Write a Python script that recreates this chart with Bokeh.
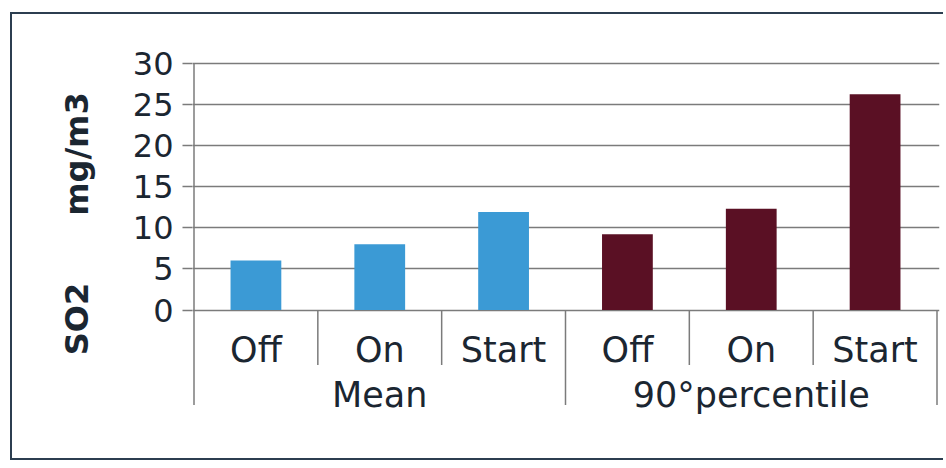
from bokeh.plotting import figure
from bokeh.models import FixedTicker, ColumnDataSource, Range1d
from bokeh.core.properties import value
from bokeh.embed import file_html
from bokeh.resources import INLINE

# ---- data ----
groups = ["Mean", "90°percentile"]
states = ["Off", "On", "Start"]
mean_values = [6.0, 8.0, 11.9]
p90_values = [9.2, 12.3, 26.2]
y_ticks = [0, 5, 10, 15, 20, 25, 30]
y_title_bottom = "SO2"
y_title_top = "mg/m3"

# ---- layout (reference pixel geometry) ----
BOX_L, BOX_T, BORDER = 10, 12, 2.5          # outer frame box position/line
OX, OY = BOX_L + BORDER, BOX_T + BORDER     # canvas offset inside the box
W, H = 933, 448
REF_X0, REF_X1 = 194, 937                   # x of category 0 start / last end
REF_Y0, REF_Y30 = 310, 63                   # y of values 0 / 30
FRAME_L, FRAME_R, FRAME_T, FRAME_B = 180, 927, 47, 416   # canvas px

n = len(groups) * len(states)
ppu_x = (REF_X1 - REF_X0) / n
ppu_y = (REF_Y0 - REF_Y30) / 30.0
x_start = -((REF_X0 - OX) - FRAME_L) / ppu_x
x_end = n + (FRAME_R - (REF_X1 - OX)) / ppu_x
y_end = 30 + ((REF_Y30 - OY) - FRAME_T) / ppu_y
y_start = -(FRAME_B - (REF_Y0 - OY)) / ppu_y

def px_y(py_ref):
    return (REF_Y0 - py_ref) / ppu_y

TEXT = "#1b2631"
GRID = "#7b7b7b"
FONT = "DejaVu Sans"
colors = ["#3b9ad5", "#5a1024"]
NB = "\u00a0"

p = figure(width=W, height=H, output_backend="svg", toolbar_location=None,
           x_range=Range1d(x_start, x_end), y_range=Range1d(y_start, y_end),
           min_border_left=FRAME_L, min_border_right=W - FRAME_R,
           min_border_top=FRAME_T, min_border_bottom=H - FRAME_B)
p.styles = {"border": f"{BORDER}px solid #2c3e50", "border-right": "none",
            "margin-left": f"{BOX_L}px", "margin-top": f"{BOX_T}px"}
p.outline_line_color = None
p.background_fill_color = "white"
p.border_fill_color = "white"
p.xaxis.visible = False
p.xgrid.visible = False

ya = p.yaxis[0]
ya.ticker = FixedTicker(ticks=y_ticks)
ya.axis_line_color = None
ya.major_tick_line_color = GRID
ya.major_tick_line_width = 1.5
ya.major_tick_out = 10
ya.major_tick_in = 0
ya.minor_tick_line_color = None
ya.major_label_text_font = FONT
ya.major_label_text_font_size = "32px"
ya.major_label_text_color = TEXT
ya.major_label_standoff = 9
ya.axis_label = NB * 4 + y_title_bottom + NB * 6 + y_title_top
ya.axis_label_text_font = FONT
ya.axis_label_text_font_size = "32px"
ya.axis_label_text_font_style = "bold"
ya.axis_label_text_color = TEXT
ya.axis_label_standoff = 34

p.ygrid.ticker = FixedTicker(ticks=y_ticks)
p.ygrid.grid_line_color = GRID
p.ygrid.grid_line_width = 1.5

# bars
xs, tops, fills, cats, grp_x = [], [], [], [], []
for gi, vals in enumerate([mean_values, p90_values]):
    for si, (s, v) in enumerate(zip(states, vals)):
        i = gi * len(states) + si
        xs.append(i + 0.5)
        tops.append(v)
        fills.append(colors[gi])
        cats.append(s)
    grp_x.append(gi * len(states) + len(states) / 2)

src = ColumnDataSource(dict(x=xs, top=tops, fill=fills, cat=cats))
p.vbar(x="x", top="top", bottom=0, width=0.41, fill_color="fill", line_color=None, source=src)

# value axis line + category separators
long_bottom = px_y(405)
short_bottom = px_y(365)
sep_x0, sep_y0, sep_y1 = [], [], []
for b in range(0, n + 1):
    long_sep = (b % len(states) == 0)
    sep_x0.append(b)
    sep_y0.append(30 if b == 0 else 0)
    sep_y1.append(long_bottom if long_sep else short_bottom)
p.segment(x0=sep_x0, y0=sep_y0, x1=sep_x0, y1=sep_y1, line_color=GRID, line_width=1.5)

# category labels
p.text(x=xs, y=[px_y(350)] * n, text=cats, text_font=value(FONT), text_font_size="35px",
       text_color=TEXT, text_align="center", text_baseline="middle")
p.text(x=grp_x, y=[px_y(395)] * len(groups), text=groups, text_font=value(FONT),
       text_font_size="35px", text_color=TEXT, text_align="center", text_baseline="middle")

open("out.html", "w").write(file_html(p, INLINE))
